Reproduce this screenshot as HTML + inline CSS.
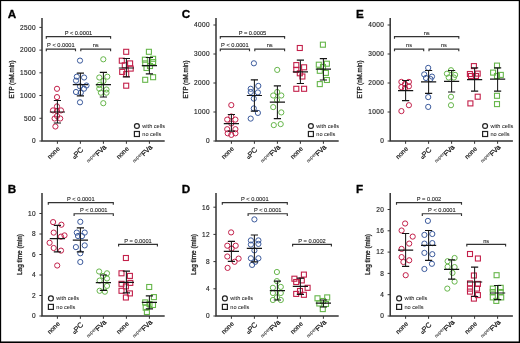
<!DOCTYPE html><html><head><meta charset="utf-8"><style>html,body{margin:0;padding:0;background:#fff;width:520px;height:343px;overflow:hidden}svg{display:block;will-change:transform}</style></head><body>
<svg width="520" height="343" viewBox="0 0 520 343" font-family='"Liberation Sans", sans-serif'>
<style>text{stroke:#1e1e1e;stroke-width:0.22px}</style>
<rect x="0" y="0" width="520" height="343" fill="#fff"/>
<circle cx="57" cy="88.8" r="2.6" fill="none" stroke="#c3204a" stroke-width="1.0"/>
<circle cx="57" cy="97.1" r="2.6" fill="none" stroke="#c3204a" stroke-width="1.0"/>
<circle cx="57" cy="106.4" r="2.6" fill="none" stroke="#c3204a" stroke-width="1.0"/>
<circle cx="53" cy="110.4" r="2.6" fill="none" stroke="#c3204a" stroke-width="1.0"/>
<circle cx="61" cy="110.4" r="2.6" fill="none" stroke="#c3204a" stroke-width="1.0"/>
<circle cx="54.6" cy="118.5" r="2.6" fill="none" stroke="#c3204a" stroke-width="1.0"/>
<circle cx="60.2" cy="118.5" r="2.6" fill="none" stroke="#c3204a" stroke-width="1.0"/>
<circle cx="57" cy="116" r="2.6" fill="none" stroke="#c3204a" stroke-width="1.0"/>
<circle cx="55.4" cy="126.5" r="2.6" fill="none" stroke="#c3204a" stroke-width="1.0"/>
<circle cx="57" cy="111" r="2.6" fill="none" stroke="#c3204a" stroke-width="1.0"/>
<circle cx="80" cy="60.6" r="2.6" fill="none" stroke="#3b5a9c" stroke-width="1.0"/>
<circle cx="76.8" cy="76.7" r="2.6" fill="none" stroke="#3b5a9c" stroke-width="1.0"/>
<circle cx="84.1" cy="77.5" r="2.6" fill="none" stroke="#3b5a9c" stroke-width="1.0"/>
<circle cx="76" cy="80.7" r="2.6" fill="none" stroke="#3b5a9c" stroke-width="1.0"/>
<circle cx="86.5" cy="85.5" r="2.6" fill="none" stroke="#3b5a9c" stroke-width="1.0"/>
<circle cx="80" cy="86.3" r="2.6" fill="none" stroke="#3b5a9c" stroke-width="1.0"/>
<circle cx="84" cy="88.7" r="2.6" fill="none" stroke="#3b5a9c" stroke-width="1.0"/>
<circle cx="76" cy="92" r="2.6" fill="none" stroke="#3b5a9c" stroke-width="1.0"/>
<circle cx="80.8" cy="92.7" r="2.6" fill="none" stroke="#3b5a9c" stroke-width="1.0"/>
<circle cx="80" cy="102.3" r="2.6" fill="none" stroke="#3b5a9c" stroke-width="1.0"/>
<circle cx="103.3" cy="59.3" r="2.6" fill="none" stroke="#66b64a" stroke-width="1.0"/>
<circle cx="99.3" cy="77.5" r="2.6" fill="none" stroke="#66b64a" stroke-width="1.0"/>
<circle cx="107.3" cy="76.7" r="2.6" fill="none" stroke="#66b64a" stroke-width="1.0"/>
<circle cx="103.5" cy="81" r="2.6" fill="none" stroke="#66b64a" stroke-width="1.0"/>
<circle cx="99.3" cy="85" r="2.6" fill="none" stroke="#66b64a" stroke-width="1.0"/>
<circle cx="99.3" cy="88.7" r="2.6" fill="none" stroke="#66b64a" stroke-width="1.0"/>
<circle cx="106.5" cy="89.5" r="2.6" fill="none" stroke="#66b64a" stroke-width="1.0"/>
<circle cx="100.9" cy="92.7" r="2.6" fill="none" stroke="#66b64a" stroke-width="1.0"/>
<circle cx="106.5" cy="92.7" r="2.6" fill="none" stroke="#66b64a" stroke-width="1.0"/>
<circle cx="103.3" cy="103.2" r="2.6" fill="none" stroke="#66b64a" stroke-width="1.0"/>
<rect x="123.7" y="49.3" width="5.0" height="5.0" fill="none" stroke="#c3204a" stroke-width="1.1"/>
<rect x="119.3" y="58.2" width="5.0" height="5.0" fill="none" stroke="#c3204a" stroke-width="1.1"/>
<rect x="127.6" y="60.9" width="5.0" height="5.0" fill="none" stroke="#c3204a" stroke-width="1.1"/>
<rect x="122.3" y="62.8" width="5.0" height="5.0" fill="none" stroke="#c3204a" stroke-width="1.1"/>
<rect x="128.2" y="66.1" width="5.0" height="5.0" fill="none" stroke="#c3204a" stroke-width="1.1"/>
<rect x="119.7" y="69.4" width="5.0" height="5.0" fill="none" stroke="#c3204a" stroke-width="1.1"/>
<rect x="123.7" y="71.6" width="5.0" height="5.0" fill="none" stroke="#c3204a" stroke-width="1.1"/>
<rect x="123.7" y="83.2" width="5.0" height="5.0" fill="none" stroke="#c3204a" stroke-width="1.1"/>
<rect x="146.4" y="49.3" width="5.0" height="5.0" fill="none" stroke="#66b64a" stroke-width="1.1"/>
<rect x="142.4" y="57.2" width="5.0" height="5.0" fill="none" stroke="#66b64a" stroke-width="1.1"/>
<rect x="150.6" y="56.3" width="5.0" height="5.0" fill="none" stroke="#66b64a" stroke-width="1.1"/>
<rect x="142.7" y="60.9" width="5.0" height="5.0" fill="none" stroke="#66b64a" stroke-width="1.1"/>
<rect x="150.6" y="59.6" width="5.0" height="5.0" fill="none" stroke="#66b64a" stroke-width="1.1"/>
<rect x="144" y="65.5" width="5.0" height="5.0" fill="none" stroke="#66b64a" stroke-width="1.1"/>
<rect x="147.5" y="63.5" width="5.0" height="5.0" fill="none" stroke="#66b64a" stroke-width="1.1"/>
<rect x="142.7" y="77.3" width="5.0" height="5.0" fill="none" stroke="#66b64a" stroke-width="1.1"/>
<rect x="150.6" y="74.7" width="5.0" height="5.0" fill="none" stroke="#66b64a" stroke-width="1.1"/>
<path d="M57.4 100.5V123" stroke="#1a1a1a" stroke-width="1.05" fill="none"/>
<path d="M53.8 100.5H61M53.8 123H61M49.8 112H65" stroke="#151515" stroke-width="1.2" fill="none"/>
<path d="M80.4 73.1V95.9" stroke="#1a1a1a" stroke-width="1.05" fill="none"/>
<path d="M76.8 73.1H84M76.8 95.9H84M72.8 84.7H88" stroke="#151515" stroke-width="1.2" fill="none"/>
<path d="M103.4 72.3V97" stroke="#1a1a1a" stroke-width="1.05" fill="none"/>
<path d="M99.8 72.3H107M99.8 97H107M95.8 84.7H111" stroke="#151515" stroke-width="1.2" fill="none"/>
<path d="M126.4 58.5V76.8" stroke="#1a1a1a" stroke-width="1.05" fill="none"/>
<path d="M122.8 58.5H130M122.8 76.8H130M118.8 68H134" stroke="#151515" stroke-width="1.2" fill="none"/>
<path d="M149.4 57.5V73.9" stroke="#1a1a1a" stroke-width="1.05" fill="none"/>
<path d="M145.8 57.5H153M145.8 73.9H153M141.8 65.6H157" stroke="#151515" stroke-width="1.2" fill="none"/>
<path d="M42 18V141H164.7" stroke="#333333" stroke-width="1.5" fill="none"/>
<path d="M39.4 141H42" stroke="#333333" stroke-width="1" fill="none"/>
<text x="35.7" y="143.35" font-size="6.5" text-anchor="end" fill="#1e1e1e" textLength="3.67" lengthAdjust="spacing" style="stroke-width:0.15px">0</text>
<path d="M39.4 118.28H42" stroke="#333333" stroke-width="1" fill="none"/>
<text x="35.7" y="120.63" font-size="6.5" text-anchor="end" fill="#1e1e1e" textLength="11.61" lengthAdjust="spacing" style="stroke-width:0.15px">500</text>
<path d="M39.4 95.56H42" stroke="#333333" stroke-width="1" fill="none"/>
<text x="35.7" y="97.91" font-size="6.5" text-anchor="end" fill="#1e1e1e" textLength="15.58" lengthAdjust="spacing" style="stroke-width:0.15px">1000</text>
<path d="M39.4 72.84H42" stroke="#333333" stroke-width="1" fill="none"/>
<text x="35.7" y="75.19" font-size="6.5" text-anchor="end" fill="#1e1e1e" textLength="15.58" lengthAdjust="spacing" style="stroke-width:0.15px">1500</text>
<path d="M39.4 50.12H42" stroke="#333333" stroke-width="1" fill="none"/>
<text x="35.7" y="52.47" font-size="6.5" text-anchor="end" fill="#1e1e1e" textLength="15.58" lengthAdjust="spacing" style="stroke-width:0.15px">2000</text>
<path d="M39.4 27.4H42" stroke="#333333" stroke-width="1" fill="none"/>
<text x="35.7" y="29.75" font-size="6.5" text-anchor="end" fill="#1e1e1e" textLength="15.58" lengthAdjust="spacing" style="stroke-width:0.15px">2500</text>
<path d="M57.4 141V143.8" stroke="#333333" stroke-width="1" fill="none"/>
<text transform="translate(60.3 149.2) rotate(-45)" font-size="6.6" text-anchor="end" fill="#1e1e1e">none</text>
<path d="M80.4 141V143.8" stroke="#333333" stroke-width="1" fill="none"/>
<text transform="translate(83.9 150.2) rotate(-45)" font-size="6.6" text-anchor="end" fill="#1e1e1e"><tspan font-size="4.9">α</tspan><tspan font-size="7.4">PC</tspan></text>
<path d="M103.4 141V143.8" stroke="#333333" stroke-width="1" fill="none"/>
<text transform="translate(106.7 147.9) rotate(-45)" font-size="6.6" text-anchor="end" fill="#1e1e1e"><tspan font-size="4.6" dy="-2.6" style="stroke-width:0.05px">super</tspan><tspan font-size="6.9" dy="2.6" style="stroke-width:0.32px">FVa</tspan></text>
<path d="M126.4 141V143.8" stroke="#333333" stroke-width="1" fill="none"/>
<text transform="translate(129.3 149.2) rotate(-45)" font-size="6.6" text-anchor="end" fill="#1e1e1e">none</text>
<path d="M149.4 141V143.8" stroke="#333333" stroke-width="1" fill="none"/>
<text transform="translate(152.7 147.9) rotate(-45)" font-size="6.6" text-anchor="end" fill="#1e1e1e"><tspan font-size="4.6" dy="-2.6" style="stroke-width:0.05px">super</tspan><tspan font-size="6.9" dy="2.6" style="stroke-width:0.32px">FVa</tspan></text>
<text transform="translate(13.9 79.5) rotate(-90)" font-size="7.1" text-anchor="middle" fill="#222" textLength="38" lengthAdjust="spacingAndGlyphs" style="stroke-width:0.3px">ETP (nM.min)</text>
<path d="M46.3 38.8V36.6H110.6V38.8" stroke="#333" stroke-width="1.15" fill="none"/>
<text x="78.45" y="34.7" font-size="5.7" text-anchor="middle" fill="#1e1e1e" style="stroke-width:0.1px">P &lt; 0.0001</text>
<path d="M46.3 51.3V49.1H75.5V51.3" stroke="#333" stroke-width="1.15" fill="none"/>
<text x="60.9" y="47.2" font-size="5.7" text-anchor="middle" fill="#1e1e1e" style="stroke-width:0.1px">P &lt; 0.0001</text>
<path d="M80.8 51.3V49.1H110.6V51.3" stroke="#333" stroke-width="1.15" fill="none"/>
<text x="95.7" y="47.2" font-size="5.7" text-anchor="middle" fill="#1e1e1e" style="stroke-width:0.1px">ns</text>
<circle cx="136.9" cy="126" r="2.45" fill="none" stroke="#222" stroke-width="1.2"/>
<rect x="134.4" y="131.5" width="5" height="5" fill="none" stroke="#222" stroke-width="1.2"/>
<text x="142.3" y="127.9" font-size="5.6" fill="#1e1e1e" style="stroke-width:0.04px">with cells</text>
<text x="142.3" y="135.9" font-size="5.6" fill="#1e1e1e" style="stroke-width:0.04px">no cells</text>
<text x="7.7" y="17.7" font-size="11.7" font-weight="bold" fill="#000" style="stroke:#000;stroke-width:0.3px">A</text>
<circle cx="231.3" cy="105.1" r="2.6" fill="none" stroke="#c3204a" stroke-width="1.0"/>
<circle cx="227.2" cy="119.6" r="2.6" fill="none" stroke="#c3204a" stroke-width="1.0"/>
<circle cx="235.4" cy="119.6" r="2.6" fill="none" stroke="#c3204a" stroke-width="1.0"/>
<circle cx="231.3" cy="116.5" r="2.6" fill="none" stroke="#c3204a" stroke-width="1.0"/>
<circle cx="231.3" cy="123.5" r="2.6" fill="none" stroke="#c3204a" stroke-width="1.0"/>
<circle cx="227.2" cy="129.2" r="2.6" fill="none" stroke="#c3204a" stroke-width="1.0"/>
<circle cx="235.4" cy="129.2" r="2.6" fill="none" stroke="#c3204a" stroke-width="1.0"/>
<circle cx="227.7" cy="133.3" r="2.6" fill="none" stroke="#c3204a" stroke-width="1.0"/>
<circle cx="235.4" cy="133.3" r="2.6" fill="none" stroke="#c3204a" stroke-width="1.0"/>
<circle cx="231.3" cy="134.9" r="2.6" fill="none" stroke="#c3204a" stroke-width="1.0"/>
<circle cx="253.9" cy="63.3" r="2.6" fill="none" stroke="#3b5a9c" stroke-width="1.0"/>
<circle cx="250.7" cy="88.8" r="2.6" fill="none" stroke="#3b5a9c" stroke-width="1.0"/>
<circle cx="258.3" cy="85.9" r="2.6" fill="none" stroke="#3b5a9c" stroke-width="1.0"/>
<circle cx="257.9" cy="92.4" r="2.6" fill="none" stroke="#3b5a9c" stroke-width="1.0"/>
<circle cx="250.7" cy="92" r="2.6" fill="none" stroke="#3b5a9c" stroke-width="1.0"/>
<circle cx="253.8" cy="98.6" r="2.6" fill="none" stroke="#3b5a9c" stroke-width="1.0"/>
<circle cx="253.8" cy="108.4" r="2.6" fill="none" stroke="#3b5a9c" stroke-width="1.0"/>
<circle cx="257.9" cy="112.9" r="2.6" fill="none" stroke="#3b5a9c" stroke-width="1.0"/>
<circle cx="250.7" cy="118.6" r="2.6" fill="none" stroke="#3b5a9c" stroke-width="1.0"/>
<circle cx="277.2" cy="69.9" r="2.6" fill="none" stroke="#66b64a" stroke-width="1.0"/>
<circle cx="273.2" cy="95.5" r="2.6" fill="none" stroke="#66b64a" stroke-width="1.0"/>
<circle cx="281.3" cy="95.5" r="2.6" fill="none" stroke="#66b64a" stroke-width="1.0"/>
<circle cx="277.2" cy="92" r="2.6" fill="none" stroke="#66b64a" stroke-width="1.0"/>
<circle cx="277" cy="100" r="2.6" fill="none" stroke="#66b64a" stroke-width="1.0"/>
<circle cx="273.2" cy="107.1" r="2.6" fill="none" stroke="#66b64a" stroke-width="1.0"/>
<circle cx="281.3" cy="112.4" r="2.6" fill="none" stroke="#66b64a" stroke-width="1.0"/>
<circle cx="273.8" cy="125.1" r="2.6" fill="none" stroke="#66b64a" stroke-width="1.0"/>
<circle cx="280.7" cy="124.1" r="2.6" fill="none" stroke="#66b64a" stroke-width="1.0"/>
<rect x="297.3" y="45.5" width="5.0" height="5.0" fill="none" stroke="#c3204a" stroke-width="1.1"/>
<rect x="293.8" y="62.6" width="5.0" height="5.0" fill="none" stroke="#c3204a" stroke-width="1.1"/>
<rect x="301.6" y="64.8" width="5.0" height="5.0" fill="none" stroke="#c3204a" stroke-width="1.1"/>
<rect x="293.8" y="67.3" width="5.0" height="5.0" fill="none" stroke="#c3204a" stroke-width="1.1"/>
<rect x="297.3" y="70.8" width="5.0" height="5.0" fill="none" stroke="#c3204a" stroke-width="1.1"/>
<rect x="299.9" y="74" width="5.0" height="5.0" fill="none" stroke="#c3204a" stroke-width="1.1"/>
<rect x="293.8" y="86.3" width="5.0" height="5.0" fill="none" stroke="#c3204a" stroke-width="1.1"/>
<rect x="301.6" y="86.3" width="5.0" height="5.0" fill="none" stroke="#c3204a" stroke-width="1.1"/>
<rect x="320.4" y="42.2" width="5.0" height="5.0" fill="none" stroke="#66b64a" stroke-width="1.1"/>
<rect x="316.3" y="62.2" width="5.0" height="5.0" fill="none" stroke="#66b64a" stroke-width="1.1"/>
<rect x="324.4" y="61.2" width="5.0" height="5.0" fill="none" stroke="#66b64a" stroke-width="1.1"/>
<rect x="317.3" y="68.3" width="5.0" height="5.0" fill="none" stroke="#66b64a" stroke-width="1.1"/>
<rect x="323.4" y="70.4" width="5.0" height="5.0" fill="none" stroke="#66b64a" stroke-width="1.1"/>
<rect x="324.4" y="77.5" width="5.0" height="5.0" fill="none" stroke="#66b64a" stroke-width="1.1"/>
<rect x="317.3" y="81.6" width="5.0" height="5.0" fill="none" stroke="#66b64a" stroke-width="1.1"/>
<rect x="320.5" y="64.5" width="5.0" height="5.0" fill="none" stroke="#66b64a" stroke-width="1.1"/>
<path d="M231.4 114.5V131.2" stroke="#1a1a1a" stroke-width="1.05" fill="none"/>
<path d="M227.8 114.5H235M227.8 131.2H235M223.8 123.7H239" stroke="#151515" stroke-width="1.2" fill="none"/>
<path d="M254.4 79.8V111.2" stroke="#1a1a1a" stroke-width="1.05" fill="none"/>
<path d="M250.8 79.8H258M250.8 111.2H258M246.8 95.5H262" stroke="#151515" stroke-width="1.2" fill="none"/>
<path d="M277.4 85.9V118.6" stroke="#1a1a1a" stroke-width="1.05" fill="none"/>
<path d="M273.8 85.9H281M273.8 118.6H281M269.8 102.2H285" stroke="#151515" stroke-width="1.2" fill="none"/>
<path d="M300.4 60.2V83.5" stroke="#1a1a1a" stroke-width="1.05" fill="none"/>
<path d="M296.8 60.2H304M296.8 83.5H304M292.8 71.8H308" stroke="#151515" stroke-width="1.2" fill="none"/>
<path d="M323.4 58.6V80" stroke="#1a1a1a" stroke-width="1.05" fill="none"/>
<path d="M319.8 58.6H327M319.8 80H327M315.8 69.2H331" stroke="#151515" stroke-width="1.2" fill="none"/>
<path d="M216 18V141H338.7" stroke="#333333" stroke-width="1.5" fill="none"/>
<path d="M213.4 141H216" stroke="#333333" stroke-width="1" fill="none"/>
<text x="209.7" y="143.35" font-size="6.5" text-anchor="end" fill="#1e1e1e" textLength="3.67" lengthAdjust="spacing" style="stroke-width:0.15px">0</text>
<path d="M213.4 112H216" stroke="#333333" stroke-width="1" fill="none"/>
<text x="209.7" y="114.35" font-size="6.5" text-anchor="end" fill="#1e1e1e" textLength="15.58" lengthAdjust="spacing" style="stroke-width:0.15px">1000</text>
<path d="M213.4 83H216" stroke="#333333" stroke-width="1" fill="none"/>
<text x="209.7" y="85.35" font-size="6.5" text-anchor="end" fill="#1e1e1e" textLength="15.58" lengthAdjust="spacing" style="stroke-width:0.15px">2000</text>
<path d="M213.4 54H216" stroke="#333333" stroke-width="1" fill="none"/>
<text x="209.7" y="56.35" font-size="6.5" text-anchor="end" fill="#1e1e1e" textLength="15.58" lengthAdjust="spacing" style="stroke-width:0.15px">3000</text>
<path d="M213.4 25H216" stroke="#333333" stroke-width="1" fill="none"/>
<text x="209.7" y="27.35" font-size="6.5" text-anchor="end" fill="#1e1e1e" textLength="15.58" lengthAdjust="spacing" style="stroke-width:0.15px">4000</text>
<path d="M231.4 141V143.8" stroke="#333333" stroke-width="1" fill="none"/>
<text transform="translate(234.3 149.2) rotate(-45)" font-size="6.6" text-anchor="end" fill="#1e1e1e">none</text>
<path d="M254.4 141V143.8" stroke="#333333" stroke-width="1" fill="none"/>
<text transform="translate(257.9 150.2) rotate(-45)" font-size="6.6" text-anchor="end" fill="#1e1e1e"><tspan font-size="4.9">α</tspan><tspan font-size="7.4">PC</tspan></text>
<path d="M277.4 141V143.8" stroke="#333333" stroke-width="1" fill="none"/>
<text transform="translate(280.7 147.9) rotate(-45)" font-size="6.6" text-anchor="end" fill="#1e1e1e"><tspan font-size="4.6" dy="-2.6" style="stroke-width:0.05px">super</tspan><tspan font-size="6.9" dy="2.6" style="stroke-width:0.32px">FVa</tspan></text>
<path d="M300.4 141V143.8" stroke="#333333" stroke-width="1" fill="none"/>
<text transform="translate(303.3 149.2) rotate(-45)" font-size="6.6" text-anchor="end" fill="#1e1e1e">none</text>
<path d="M323.4 141V143.8" stroke="#333333" stroke-width="1" fill="none"/>
<text transform="translate(326.7 147.9) rotate(-45)" font-size="6.6" text-anchor="end" fill="#1e1e1e"><tspan font-size="4.6" dy="-2.6" style="stroke-width:0.05px">super</tspan><tspan font-size="6.9" dy="2.6" style="stroke-width:0.32px">FVa</tspan></text>
<text transform="translate(187.9 79.5) rotate(-90)" font-size="7.1" text-anchor="middle" fill="#222" textLength="38" lengthAdjust="spacingAndGlyphs" style="stroke-width:0.3px">ETP (nM.min)</text>
<path d="M220.3 38.8V36.6H284.6V38.8" stroke="#333" stroke-width="1.15" fill="none"/>
<text x="252.45" y="34.7" font-size="5.7" text-anchor="middle" fill="#1e1e1e" style="stroke-width:0.1px">P = 0.0005</text>
<path d="M220.3 51.3V49.1H249.5V51.3" stroke="#333" stroke-width="1.15" fill="none"/>
<text x="234.9" y="47.2" font-size="5.7" text-anchor="middle" fill="#1e1e1e" style="stroke-width:0.1px">P &lt; 0.0001</text>
<path d="M254.8 51.3V49.1H284.6V51.3" stroke="#333" stroke-width="1.15" fill="none"/>
<text x="269.7" y="47.2" font-size="5.7" text-anchor="middle" fill="#1e1e1e" style="stroke-width:0.1px">ns</text>
<circle cx="310.9" cy="126" r="2.45" fill="none" stroke="#222" stroke-width="1.2"/>
<rect x="308.4" y="131.5" width="5" height="5" fill="none" stroke="#222" stroke-width="1.2"/>
<text x="316.3" y="127.9" font-size="5.6" fill="#1e1e1e" style="stroke-width:0.04px">with cells</text>
<text x="316.3" y="135.9" font-size="5.6" fill="#1e1e1e" style="stroke-width:0.04px">no cells</text>
<text x="181.7" y="17.7" font-size="11.7" font-weight="bold" fill="#000" style="stroke:#000;stroke-width:0.3px">C</text>
<circle cx="401.4" cy="81.9" r="2.6" fill="none" stroke="#c3204a" stroke-width="1.0"/>
<circle cx="408.9" cy="81.9" r="2.6" fill="none" stroke="#c3204a" stroke-width="1.0"/>
<circle cx="401.4" cy="87.1" r="2.6" fill="none" stroke="#c3204a" stroke-width="1.0"/>
<circle cx="408.9" cy="86.3" r="2.6" fill="none" stroke="#c3204a" stroke-width="1.0"/>
<circle cx="405" cy="84" r="2.6" fill="none" stroke="#c3204a" stroke-width="1.0"/>
<circle cx="405" cy="88" r="2.6" fill="none" stroke="#c3204a" stroke-width="1.0"/>
<circle cx="408.9" cy="105.2" r="2.6" fill="none" stroke="#c3204a" stroke-width="1.0"/>
<circle cx="401.4" cy="111.1" r="2.6" fill="none" stroke="#c3204a" stroke-width="1.0"/>
<circle cx="428.2" cy="67.9" r="2.6" fill="none" stroke="#3b5a9c" stroke-width="1.0"/>
<circle cx="424.2" cy="74.4" r="2.6" fill="none" stroke="#3b5a9c" stroke-width="1.0"/>
<circle cx="432" cy="76.6" r="2.6" fill="none" stroke="#3b5a9c" stroke-width="1.0"/>
<circle cx="426" cy="78" r="2.6" fill="none" stroke="#3b5a9c" stroke-width="1.0"/>
<circle cx="430.5" cy="79" r="2.6" fill="none" stroke="#3b5a9c" stroke-width="1.0"/>
<circle cx="428.2" cy="97.1" r="2.6" fill="none" stroke="#3b5a9c" stroke-width="1.0"/>
<circle cx="428.2" cy="106.9" r="2.6" fill="none" stroke="#3b5a9c" stroke-width="1.0"/>
<circle cx="451" cy="70.2" r="2.6" fill="none" stroke="#66b64a" stroke-width="1.0"/>
<circle cx="446.9" cy="73.7" r="2.6" fill="none" stroke="#66b64a" stroke-width="1.0"/>
<circle cx="455.1" cy="74.9" r="2.6" fill="none" stroke="#66b64a" stroke-width="1.0"/>
<circle cx="448.7" cy="77.5" r="2.6" fill="none" stroke="#66b64a" stroke-width="1.0"/>
<circle cx="453.9" cy="77.5" r="2.6" fill="none" stroke="#66b64a" stroke-width="1.0"/>
<circle cx="451" cy="96.8" r="2.6" fill="none" stroke="#66b64a" stroke-width="1.0"/>
<circle cx="451" cy="105.2" r="2.6" fill="none" stroke="#66b64a" stroke-width="1.0"/>
<rect x="471.4" y="63.6" width="5.0" height="5.0" fill="none" stroke="#c3204a" stroke-width="1.1"/>
<rect x="467.4" y="71.5" width="5.0" height="5.0" fill="none" stroke="#c3204a" stroke-width="1.1"/>
<rect x="475.2" y="71.1" width="5.0" height="5.0" fill="none" stroke="#c3204a" stroke-width="1.1"/>
<rect x="468.5" y="73.5" width="5.0" height="5.0" fill="none" stroke="#c3204a" stroke-width="1.1"/>
<rect x="473.5" y="73.5" width="5.0" height="5.0" fill="none" stroke="#c3204a" stroke-width="1.1"/>
<rect x="475.2" y="94.2" width="5.0" height="5.0" fill="none" stroke="#c3204a" stroke-width="1.1"/>
<rect x="467.9" y="100.9" width="5.0" height="5.0" fill="none" stroke="#c3204a" stroke-width="1.1"/>
<rect x="494.5" y="63.1" width="5.0" height="5.0" fill="none" stroke="#66b64a" stroke-width="1.1"/>
<rect x="490.6" y="70.1" width="5.0" height="5.0" fill="none" stroke="#66b64a" stroke-width="1.1"/>
<rect x="498.3" y="72.4" width="5.0" height="5.0" fill="none" stroke="#66b64a" stroke-width="1.1"/>
<rect x="494.5" y="73.5" width="5.0" height="5.0" fill="none" stroke="#66b64a" stroke-width="1.1"/>
<rect x="494.5" y="93.3" width="5.0" height="5.0" fill="none" stroke="#66b64a" stroke-width="1.1"/>
<rect x="494.5" y="101.6" width="5.0" height="5.0" fill="none" stroke="#66b64a" stroke-width="1.1"/>
<path d="M405.6 80.5V100.6" stroke="#1a1a1a" stroke-width="1.05" fill="none"/>
<path d="M402 80.5H409.2M402 100.6H409.2M398 90.6H413.2" stroke="#151515" stroke-width="1.2" fill="none"/>
<path d="M428.6 70.5V93.3" stroke="#1a1a1a" stroke-width="1.05" fill="none"/>
<path d="M425 70.5H432.2M425 93.3H432.2M421 81.9H436.2" stroke="#151515" stroke-width="1.2" fill="none"/>
<path d="M451.6 70.5V92" stroke="#1a1a1a" stroke-width="1.05" fill="none"/>
<path d="M448 70.5H455.2M448 92H455.2M444 81.4H459.2" stroke="#151515" stroke-width="1.2" fill="none"/>
<path d="M474.6 67.9V91.1" stroke="#1a1a1a" stroke-width="1.05" fill="none"/>
<path d="M471 67.9H478.2M471 91.1H478.2M467 79.6H482.2" stroke="#151515" stroke-width="1.2" fill="none"/>
<path d="M497.6 67.9V91.1" stroke="#1a1a1a" stroke-width="1.05" fill="none"/>
<path d="M494 67.9H501.2M494 91.1H501.2M490 79.2H505.2" stroke="#151515" stroke-width="1.2" fill="none"/>
<path d="M390.2 18V141H512.9" stroke="#333333" stroke-width="1.5" fill="none"/>
<path d="M387.6 141H390.2" stroke="#333333" stroke-width="1" fill="none"/>
<text x="383.9" y="143.35" font-size="6.5" text-anchor="end" fill="#1e1e1e" textLength="3.67" lengthAdjust="spacing" style="stroke-width:0.15px">0</text>
<path d="M387.6 112H390.2" stroke="#333333" stroke-width="1" fill="none"/>
<text x="383.9" y="114.35" font-size="6.5" text-anchor="end" fill="#1e1e1e" textLength="15.58" lengthAdjust="spacing" style="stroke-width:0.15px">1000</text>
<path d="M387.6 83H390.2" stroke="#333333" stroke-width="1" fill="none"/>
<text x="383.9" y="85.35" font-size="6.5" text-anchor="end" fill="#1e1e1e" textLength="15.58" lengthAdjust="spacing" style="stroke-width:0.15px">2000</text>
<path d="M387.6 54H390.2" stroke="#333333" stroke-width="1" fill="none"/>
<text x="383.9" y="56.35" font-size="6.5" text-anchor="end" fill="#1e1e1e" textLength="15.58" lengthAdjust="spacing" style="stroke-width:0.15px">3000</text>
<path d="M387.6 25H390.2" stroke="#333333" stroke-width="1" fill="none"/>
<text x="383.9" y="27.35" font-size="6.5" text-anchor="end" fill="#1e1e1e" textLength="15.58" lengthAdjust="spacing" style="stroke-width:0.15px">4000</text>
<path d="M405.6 141V143.8" stroke="#333333" stroke-width="1" fill="none"/>
<text transform="translate(408.5 149.2) rotate(-45)" font-size="6.6" text-anchor="end" fill="#1e1e1e">none</text>
<path d="M428.6 141V143.8" stroke="#333333" stroke-width="1" fill="none"/>
<text transform="translate(432.1 150.2) rotate(-45)" font-size="6.6" text-anchor="end" fill="#1e1e1e"><tspan font-size="4.9">α</tspan><tspan font-size="7.4">PC</tspan></text>
<path d="M451.6 141V143.8" stroke="#333333" stroke-width="1" fill="none"/>
<text transform="translate(454.9 147.9) rotate(-45)" font-size="6.6" text-anchor="end" fill="#1e1e1e"><tspan font-size="4.6" dy="-2.6" style="stroke-width:0.05px">super</tspan><tspan font-size="6.9" dy="2.6" style="stroke-width:0.32px">FVa</tspan></text>
<path d="M474.6 141V143.8" stroke="#333333" stroke-width="1" fill="none"/>
<text transform="translate(477.5 149.2) rotate(-45)" font-size="6.6" text-anchor="end" fill="#1e1e1e">none</text>
<path d="M497.6 141V143.8" stroke="#333333" stroke-width="1" fill="none"/>
<text transform="translate(500.9 147.9) rotate(-45)" font-size="6.6" text-anchor="end" fill="#1e1e1e"><tspan font-size="4.6" dy="-2.6" style="stroke-width:0.05px">super</tspan><tspan font-size="6.9" dy="2.6" style="stroke-width:0.32px">FVa</tspan></text>
<text transform="translate(362.1 79.5) rotate(-90)" font-size="7.1" text-anchor="middle" fill="#222" textLength="38" lengthAdjust="spacingAndGlyphs" style="stroke-width:0.3px">ETP (nM.min)</text>
<path d="M394.5 38.8V36.6H458.8V38.8" stroke="#333" stroke-width="1.15" fill="none"/>
<text x="426.65" y="34.7" font-size="5.7" text-anchor="middle" fill="#1e1e1e" style="stroke-width:0.1px">ns</text>
<path d="M394.5 51.3V49.1H423.7V51.3" stroke="#333" stroke-width="1.15" fill="none"/>
<text x="409.1" y="47.2" font-size="5.7" text-anchor="middle" fill="#1e1e1e" style="stroke-width:0.1px">ns</text>
<path d="M429 51.3V49.1H458.8V51.3" stroke="#333" stroke-width="1.15" fill="none"/>
<text x="443.9" y="47.2" font-size="5.7" text-anchor="middle" fill="#1e1e1e" style="stroke-width:0.1px">ns</text>
<circle cx="485.1" cy="126" r="2.45" fill="none" stroke="#222" stroke-width="1.2"/>
<rect x="482.6" y="131.5" width="5" height="5" fill="none" stroke="#222" stroke-width="1.2"/>
<text x="490.5" y="127.9" font-size="5.6" fill="#1e1e1e" style="stroke-width:0.04px">with cells</text>
<text x="490.5" y="135.9" font-size="5.6" fill="#1e1e1e" style="stroke-width:0.04px">no cells</text>
<text x="355.9" y="17.7" font-size="11.7" font-weight="bold" fill="#000" style="stroke:#000;stroke-width:0.3px">E</text>
<circle cx="53.1" cy="222.1" r="2.6" fill="none" stroke="#c3204a" stroke-width="1.0"/>
<circle cx="61.4" cy="224.7" r="2.6" fill="none" stroke="#c3204a" stroke-width="1.0"/>
<circle cx="53.7" cy="232.6" r="2.6" fill="none" stroke="#c3204a" stroke-width="1.0"/>
<circle cx="64.5" cy="235.4" r="2.6" fill="none" stroke="#c3204a" stroke-width="1.0"/>
<circle cx="61" cy="236.6" r="2.6" fill="none" stroke="#c3204a" stroke-width="1.0"/>
<circle cx="49.6" cy="242.8" r="2.6" fill="none" stroke="#c3204a" stroke-width="1.0"/>
<circle cx="53.7" cy="248" r="2.6" fill="none" stroke="#c3204a" stroke-width="1.0"/>
<circle cx="61" cy="250.6" r="2.6" fill="none" stroke="#c3204a" stroke-width="1.0"/>
<circle cx="57.2" cy="265.5" r="2.6" fill="none" stroke="#c3204a" stroke-width="1.0"/>
<circle cx="80.3" cy="221.8" r="2.6" fill="none" stroke="#3b5a9c" stroke-width="1.0"/>
<circle cx="76.8" cy="232.6" r="2.6" fill="none" stroke="#3b5a9c" stroke-width="1.0"/>
<circle cx="84.7" cy="232.6" r="2.6" fill="none" stroke="#3b5a9c" stroke-width="1.0"/>
<circle cx="82" cy="236.1" r="2.6" fill="none" stroke="#3b5a9c" stroke-width="1.0"/>
<circle cx="78" cy="236" r="2.6" fill="none" stroke="#3b5a9c" stroke-width="1.0"/>
<circle cx="75.9" cy="247.1" r="2.6" fill="none" stroke="#3b5a9c" stroke-width="1.0"/>
<circle cx="84.7" cy="245.4" r="2.6" fill="none" stroke="#3b5a9c" stroke-width="1.0"/>
<circle cx="80.3" cy="253.3" r="2.6" fill="none" stroke="#3b5a9c" stroke-width="1.0"/>
<circle cx="80.3" cy="262" r="2.6" fill="none" stroke="#3b5a9c" stroke-width="1.0"/>
<circle cx="99.1" cy="271.5" r="2.6" fill="none" stroke="#66b64a" stroke-width="1.0"/>
<circle cx="107" cy="273.3" r="2.6" fill="none" stroke="#66b64a" stroke-width="1.0"/>
<circle cx="107" cy="278.5" r="2.6" fill="none" stroke="#66b64a" stroke-width="1.0"/>
<circle cx="99.6" cy="280.6" r="2.6" fill="none" stroke="#66b64a" stroke-width="1.0"/>
<circle cx="107" cy="285.9" r="2.6" fill="none" stroke="#66b64a" stroke-width="1.0"/>
<circle cx="99.6" cy="290.8" r="2.6" fill="none" stroke="#66b64a" stroke-width="1.0"/>
<circle cx="104.9" cy="291.7" r="2.6" fill="none" stroke="#66b64a" stroke-width="1.0"/>
<circle cx="103" cy="276" r="2.6" fill="none" stroke="#66b64a" stroke-width="1.0"/>
<rect x="123.4" y="255.5" width="5.0" height="5.0" fill="none" stroke="#c3204a" stroke-width="1.1"/>
<rect x="119" y="270.8" width="5.0" height="5.0" fill="none" stroke="#c3204a" stroke-width="1.1"/>
<rect x="127.4" y="273.4" width="5.0" height="5.0" fill="none" stroke="#c3204a" stroke-width="1.1"/>
<rect x="119" y="281.3" width="5.0" height="5.0" fill="none" stroke="#c3204a" stroke-width="1.1"/>
<rect x="127.8" y="280.4" width="5.0" height="5.0" fill="none" stroke="#c3204a" stroke-width="1.1"/>
<rect x="123.4" y="283.9" width="5.0" height="5.0" fill="none" stroke="#c3204a" stroke-width="1.1"/>
<rect x="119" y="288.3" width="5.0" height="5.0" fill="none" stroke="#c3204a" stroke-width="1.1"/>
<rect x="127.4" y="290.9" width="5.0" height="5.0" fill="none" stroke="#c3204a" stroke-width="1.1"/>
<rect x="123.4" y="295" width="5.0" height="5.0" fill="none" stroke="#c3204a" stroke-width="1.1"/>
<rect x="146.7" y="284.5" width="5.0" height="5.0" fill="none" stroke="#66b64a" stroke-width="1.1"/>
<rect x="151.4" y="294.6" width="5.0" height="5.0" fill="none" stroke="#66b64a" stroke-width="1.1"/>
<rect x="142.7" y="299.9" width="5.0" height="5.0" fill="none" stroke="#66b64a" stroke-width="1.1"/>
<rect x="150.5" y="302.5" width="5.0" height="5.0" fill="none" stroke="#66b64a" stroke-width="1.1"/>
<rect x="143.2" y="305.2" width="5.0" height="5.0" fill="none" stroke="#66b64a" stroke-width="1.1"/>
<rect x="147" y="301.5" width="5.0" height="5.0" fill="none" stroke="#66b64a" stroke-width="1.1"/>
<rect x="144.4" y="309.5" width="5.0" height="5.0" fill="none" stroke="#66b64a" stroke-width="1.1"/>
<path d="M57.4 225.3V251.9" stroke="#1a1a1a" stroke-width="1.05" fill="none"/>
<path d="M53.8 225.3H61M53.8 251.9H61M49.8 238.6H65" stroke="#151515" stroke-width="1.2" fill="none"/>
<path d="M80.4 227.9V251.9" stroke="#1a1a1a" stroke-width="1.05" fill="none"/>
<path d="M76.8 227.9H84M76.8 251.9H84M72.8 240.1H88" stroke="#151515" stroke-width="1.2" fill="none"/>
<path d="M103.4 275V290.4" stroke="#1a1a1a" stroke-width="1.05" fill="none"/>
<path d="M99.8 275H107M99.8 290.4H107M95.8 282.6H111" stroke="#151515" stroke-width="1.2" fill="none"/>
<path d="M126.4 271.2V292.8" stroke="#1a1a1a" stroke-width="1.05" fill="none"/>
<path d="M122.8 271.2H130M122.8 292.8H130M118.8 282.4H134" stroke="#151515" stroke-width="1.2" fill="none"/>
<path d="M149.4 295.9V308.9" stroke="#1a1a1a" stroke-width="1.05" fill="none"/>
<path d="M145.8 295.9H153M145.8 308.9H153M141.8 302.4H157" stroke="#151515" stroke-width="1.2" fill="none"/>
<path d="M42 193V316H164.7" stroke="#333333" stroke-width="1.5" fill="none"/>
<path d="M39.4 316H42" stroke="#333333" stroke-width="1" fill="none"/>
<text x="35.7" y="318.35" font-size="6.5" text-anchor="end" fill="#1e1e1e" textLength="3.67" lengthAdjust="spacing" style="stroke-width:0.15px">0</text>
<path d="M39.4 295.5H42" stroke="#333333" stroke-width="1" fill="none"/>
<text x="35.7" y="297.85" font-size="6.5" text-anchor="end" fill="#1e1e1e" textLength="3.67" lengthAdjust="spacing" style="stroke-width:0.15px">2</text>
<path d="M39.4 275H42" stroke="#333333" stroke-width="1" fill="none"/>
<text x="35.7" y="277.35" font-size="6.5" text-anchor="end" fill="#1e1e1e" textLength="3.67" lengthAdjust="spacing" style="stroke-width:0.15px">4</text>
<path d="M39.4 254.5H42" stroke="#333333" stroke-width="1" fill="none"/>
<text x="35.7" y="256.85" font-size="6.5" text-anchor="end" fill="#1e1e1e" textLength="3.67" lengthAdjust="spacing" style="stroke-width:0.15px">6</text>
<path d="M39.4 234H42" stroke="#333333" stroke-width="1" fill="none"/>
<text x="35.7" y="236.35" font-size="6.5" text-anchor="end" fill="#1e1e1e" textLength="3.67" lengthAdjust="spacing" style="stroke-width:0.15px">8</text>
<path d="M39.4 213.5H42" stroke="#333333" stroke-width="1" fill="none"/>
<text x="35.7" y="215.85" font-size="6.5" text-anchor="end" fill="#1e1e1e" textLength="7.64" lengthAdjust="spacing" style="stroke-width:0.15px">10</text>
<path d="M57.4 316V318.8" stroke="#333333" stroke-width="1" fill="none"/>
<text transform="translate(60.3 324.2) rotate(-45)" font-size="6.6" text-anchor="end" fill="#1e1e1e">none</text>
<path d="M80.4 316V318.8" stroke="#333333" stroke-width="1" fill="none"/>
<text transform="translate(83.9 325.2) rotate(-45)" font-size="6.6" text-anchor="end" fill="#1e1e1e"><tspan font-size="4.9">α</tspan><tspan font-size="7.4">PC</tspan></text>
<path d="M103.4 316V318.8" stroke="#333333" stroke-width="1" fill="none"/>
<text transform="translate(106.7 322.9) rotate(-45)" font-size="6.6" text-anchor="end" fill="#1e1e1e"><tspan font-size="4.6" dy="-2.6" style="stroke-width:0.05px">super</tspan><tspan font-size="6.9" dy="2.6" style="stroke-width:0.32px">FVa</tspan></text>
<path d="M126.4 316V318.8" stroke="#333333" stroke-width="1" fill="none"/>
<text transform="translate(129.3 324.2) rotate(-45)" font-size="6.6" text-anchor="end" fill="#1e1e1e">none</text>
<path d="M149.4 316V318.8" stroke="#333333" stroke-width="1" fill="none"/>
<text transform="translate(152.7 322.9) rotate(-45)" font-size="6.6" text-anchor="end" fill="#1e1e1e"><tspan font-size="4.6" dy="-2.6" style="stroke-width:0.05px">super</tspan><tspan font-size="6.9" dy="2.6" style="stroke-width:0.32px">FVa</tspan></text>
<text transform="translate(22.2 254.5) rotate(-90)" font-size="7.1" text-anchor="middle" fill="#222" textLength="41" lengthAdjust="spacingAndGlyphs" style="stroke-width:0.3px">Lag time (min)</text>
<path d="M48.3 204.8V202.6H113.3V204.8" stroke="#333" stroke-width="1.15" fill="none"/>
<text x="80.8" y="200.7" font-size="5.7" text-anchor="middle" fill="#1e1e1e" style="stroke-width:0.1px">P &lt; 0.0001</text>
<path d="M74.1 215.9V213.7H113.3V215.9" stroke="#333" stroke-width="1.15" fill="none"/>
<text x="93.7" y="211.8" font-size="5.7" text-anchor="middle" fill="#1e1e1e" style="stroke-width:0.1px">P &lt; 0.0001</text>
<path d="M118.6 246.6V244.4H157.4V246.6" stroke="#333" stroke-width="1.15" fill="none"/>
<text x="138" y="242.5" font-size="5.7" text-anchor="middle" fill="#1e1e1e" style="stroke-width:0.1px">P = 0.0001</text>
<circle cx="50.9" cy="298.4" r="2.45" fill="none" stroke="#222" stroke-width="1.2"/>
<rect x="48.4" y="304.4" width="5" height="5" fill="none" stroke="#222" stroke-width="1.2"/>
<text x="56.3" y="300.3" font-size="5.6" fill="#1e1e1e" style="stroke-width:0.04px">with cells</text>
<text x="56.3" y="308.8" font-size="5.6" fill="#1e1e1e" style="stroke-width:0.04px">no cells</text>
<text x="7.7" y="193.2" font-size="11.7" font-weight="bold" fill="#000" style="stroke:#000;stroke-width:0.3px">B</text>
<circle cx="231.1" cy="232.4" r="2.6" fill="none" stroke="#c3204a" stroke-width="1.0"/>
<circle cx="227.3" cy="245.7" r="2.6" fill="none" stroke="#c3204a" stroke-width="1.0"/>
<circle cx="235.7" cy="245.7" r="2.6" fill="none" stroke="#c3204a" stroke-width="1.0"/>
<circle cx="231.6" cy="248.6" r="2.6" fill="none" stroke="#c3204a" stroke-width="1.0"/>
<circle cx="227.3" cy="256.5" r="2.6" fill="none" stroke="#c3204a" stroke-width="1.0"/>
<circle cx="238.6" cy="258.6" r="2.6" fill="none" stroke="#c3204a" stroke-width="1.0"/>
<circle cx="234.6" cy="261.8" r="2.6" fill="none" stroke="#c3204a" stroke-width="1.0"/>
<circle cx="227.6" cy="267.9" r="2.6" fill="none" stroke="#c3204a" stroke-width="1.0"/>
<circle cx="254.4" cy="219.4" r="2.6" fill="none" stroke="#3b5a9c" stroke-width="1.0"/>
<circle cx="250.9" cy="240.4" r="2.6" fill="none" stroke="#3b5a9c" stroke-width="1.0"/>
<circle cx="258.4" cy="240.4" r="2.6" fill="none" stroke="#3b5a9c" stroke-width="1.0"/>
<circle cx="250.9" cy="244.6" r="2.6" fill="none" stroke="#3b5a9c" stroke-width="1.0"/>
<circle cx="258.4" cy="243.9" r="2.6" fill="none" stroke="#3b5a9c" stroke-width="1.0"/>
<circle cx="254.4" cy="250.4" r="2.6" fill="none" stroke="#3b5a9c" stroke-width="1.0"/>
<circle cx="250.9" cy="258.3" r="2.6" fill="none" stroke="#3b5a9c" stroke-width="1.0"/>
<circle cx="258.4" cy="258.3" r="2.6" fill="none" stroke="#3b5a9c" stroke-width="1.0"/>
<circle cx="255.3" cy="261.8" r="2.6" fill="none" stroke="#3b5a9c" stroke-width="1.0"/>
<circle cx="252.1" cy="264.9" r="2.6" fill="none" stroke="#3b5a9c" stroke-width="1.0"/>
<circle cx="276.9" cy="272" r="2.6" fill="none" stroke="#66b64a" stroke-width="1.0"/>
<circle cx="276.9" cy="281.1" r="2.6" fill="none" stroke="#66b64a" stroke-width="1.0"/>
<circle cx="272.9" cy="287.8" r="2.6" fill="none" stroke="#66b64a" stroke-width="1.0"/>
<circle cx="280.8" cy="286.9" r="2.6" fill="none" stroke="#66b64a" stroke-width="1.0"/>
<circle cx="272.9" cy="293" r="2.6" fill="none" stroke="#66b64a" stroke-width="1.0"/>
<circle cx="280.8" cy="293" r="2.6" fill="none" stroke="#66b64a" stroke-width="1.0"/>
<circle cx="272.9" cy="300" r="2.6" fill="none" stroke="#66b64a" stroke-width="1.0"/>
<circle cx="280.8" cy="300" r="2.6" fill="none" stroke="#66b64a" stroke-width="1.0"/>
<circle cx="276.9" cy="297.4" r="2.6" fill="none" stroke="#66b64a" stroke-width="1.0"/>
<rect x="301.4" y="272.1" width="5.0" height="5.0" fill="none" stroke="#c3204a" stroke-width="1.1"/>
<rect x="291.9" y="276.2" width="5.0" height="5.0" fill="none" stroke="#c3204a" stroke-width="1.1"/>
<rect x="293.7" y="279.5" width="5.0" height="5.0" fill="none" stroke="#c3204a" stroke-width="1.1"/>
<rect x="299.3" y="277.9" width="5.0" height="5.0" fill="none" stroke="#c3204a" stroke-width="1.1"/>
<rect x="305.1" y="285.3" width="5.0" height="5.0" fill="none" stroke="#c3204a" stroke-width="1.1"/>
<rect x="293.7" y="291.4" width="5.0" height="5.0" fill="none" stroke="#c3204a" stroke-width="1.1"/>
<rect x="301.4" y="292.3" width="5.0" height="5.0" fill="none" stroke="#c3204a" stroke-width="1.1"/>
<rect x="297.5" y="288.5" width="5.0" height="5.0" fill="none" stroke="#c3204a" stroke-width="1.1"/>
<rect x="315" y="295.8" width="5.0" height="5.0" fill="none" stroke="#66b64a" stroke-width="1.1"/>
<rect x="324.7" y="294.9" width="5.0" height="5.0" fill="none" stroke="#66b64a" stroke-width="1.1"/>
<rect x="316.8" y="301" width="5.0" height="5.0" fill="none" stroke="#66b64a" stroke-width="1.1"/>
<rect x="323.5" y="301.5" width="5.0" height="5.0" fill="none" stroke="#66b64a" stroke-width="1.1"/>
<rect x="320.3" y="306.6" width="5.0" height="5.0" fill="none" stroke="#66b64a" stroke-width="1.1"/>
<rect x="320.5" y="298.5" width="5.0" height="5.0" fill="none" stroke="#66b64a" stroke-width="1.1"/>
<path d="M231.4 241.3V261.4" stroke="#1a1a1a" stroke-width="1.05" fill="none"/>
<path d="M227.8 241.3H235M227.8 261.4H235M223.8 251.3H239" stroke="#151515" stroke-width="1.2" fill="none"/>
<path d="M254.4 235V261.8" stroke="#1a1a1a" stroke-width="1.05" fill="none"/>
<path d="M250.8 235H258M250.8 261.8H258M246.8 248.3H262" stroke="#151515" stroke-width="1.2" fill="none"/>
<path d="M277.4 281.1V300" stroke="#1a1a1a" stroke-width="1.05" fill="none"/>
<path d="M273.8 281.1H281M273.8 300H281M269.8 290.7H285" stroke="#151515" stroke-width="1.2" fill="none"/>
<path d="M300.4 278.1V294.4" stroke="#1a1a1a" stroke-width="1.05" fill="none"/>
<path d="M296.8 278.1H304M296.8 294.4H304M292.8 286.4H308" stroke="#151515" stroke-width="1.2" fill="none"/>
<path d="M323.4 300V307" stroke="#1a1a1a" stroke-width="1.05" fill="none"/>
<path d="M319.8 300H327M319.8 307H327M315.8 303.2H331" stroke="#151515" stroke-width="1.2" fill="none"/>
<path d="M216 193V316H338.7" stroke="#333333" stroke-width="1.5" fill="none"/>
<path d="M213.4 316H216" stroke="#333333" stroke-width="1" fill="none"/>
<text x="209.7" y="318.35" font-size="6.5" text-anchor="end" fill="#1e1e1e" textLength="3.67" lengthAdjust="spacing" style="stroke-width:0.15px">0</text>
<path d="M213.4 288.8H216" stroke="#333333" stroke-width="1" fill="none"/>
<text x="209.7" y="291.15" font-size="6.5" text-anchor="end" fill="#1e1e1e" textLength="3.67" lengthAdjust="spacing" style="stroke-width:0.15px">4</text>
<path d="M213.4 261.6H216" stroke="#333333" stroke-width="1" fill="none"/>
<text x="209.7" y="263.95" font-size="6.5" text-anchor="end" fill="#1e1e1e" textLength="3.67" lengthAdjust="spacing" style="stroke-width:0.15px">8</text>
<path d="M213.4 234.4H216" stroke="#333333" stroke-width="1" fill="none"/>
<text x="209.7" y="236.75" font-size="6.5" text-anchor="end" fill="#1e1e1e" textLength="7.64" lengthAdjust="spacing" style="stroke-width:0.15px">12</text>
<path d="M213.4 207.2H216" stroke="#333333" stroke-width="1" fill="none"/>
<text x="209.7" y="209.55" font-size="6.5" text-anchor="end" fill="#1e1e1e" textLength="7.64" lengthAdjust="spacing" style="stroke-width:0.15px">16</text>
<path d="M231.4 316V318.8" stroke="#333333" stroke-width="1" fill="none"/>
<text transform="translate(234.3 324.2) rotate(-45)" font-size="6.6" text-anchor="end" fill="#1e1e1e">none</text>
<path d="M254.4 316V318.8" stroke="#333333" stroke-width="1" fill="none"/>
<text transform="translate(257.9 325.2) rotate(-45)" font-size="6.6" text-anchor="end" fill="#1e1e1e"><tspan font-size="4.9">α</tspan><tspan font-size="7.4">PC</tspan></text>
<path d="M277.4 316V318.8" stroke="#333333" stroke-width="1" fill="none"/>
<text transform="translate(280.7 322.9) rotate(-45)" font-size="6.6" text-anchor="end" fill="#1e1e1e"><tspan font-size="4.6" dy="-2.6" style="stroke-width:0.05px">super</tspan><tspan font-size="6.9" dy="2.6" style="stroke-width:0.32px">FVa</tspan></text>
<path d="M300.4 316V318.8" stroke="#333333" stroke-width="1" fill="none"/>
<text transform="translate(303.3 324.2) rotate(-45)" font-size="6.6" text-anchor="end" fill="#1e1e1e">none</text>
<path d="M323.4 316V318.8" stroke="#333333" stroke-width="1" fill="none"/>
<text transform="translate(326.7 322.9) rotate(-45)" font-size="6.6" text-anchor="end" fill="#1e1e1e"><tspan font-size="4.6" dy="-2.6" style="stroke-width:0.05px">super</tspan><tspan font-size="6.9" dy="2.6" style="stroke-width:0.32px">FVa</tspan></text>
<text transform="translate(196.2 254.5) rotate(-90)" font-size="7.1" text-anchor="middle" fill="#222" textLength="41" lengthAdjust="spacingAndGlyphs" style="stroke-width:0.3px">Lag time (min)</text>
<path d="M222.3 204.8V202.6H287.3V204.8" stroke="#333" stroke-width="1.15" fill="none"/>
<text x="254.8" y="200.7" font-size="5.7" text-anchor="middle" fill="#1e1e1e" style="stroke-width:0.1px">P &lt; 0.0001</text>
<path d="M248.1 215.9V213.7H287.3V215.9" stroke="#333" stroke-width="1.15" fill="none"/>
<text x="267.7" y="211.8" font-size="5.7" text-anchor="middle" fill="#1e1e1e" style="stroke-width:0.1px">P &lt; 0.0001</text>
<path d="M292.6 246.6V244.4H331.4V246.6" stroke="#333" stroke-width="1.15" fill="none"/>
<text x="312" y="242.5" font-size="5.7" text-anchor="middle" fill="#1e1e1e" style="stroke-width:0.1px">P = 0.0002</text>
<circle cx="224.9" cy="298.4" r="2.45" fill="none" stroke="#222" stroke-width="1.2"/>
<rect x="222.4" y="304.4" width="5" height="5" fill="none" stroke="#222" stroke-width="1.2"/>
<text x="230.3" y="300.3" font-size="5.6" fill="#1e1e1e" style="stroke-width:0.04px">with cells</text>
<text x="230.3" y="308.8" font-size="5.6" fill="#1e1e1e" style="stroke-width:0.04px">no cells</text>
<text x="181.7" y="193.2" font-size="11.7" font-weight="bold" fill="#000" style="stroke:#000;stroke-width:0.3px">D</text>
<circle cx="405.1" cy="223.5" r="2.6" fill="none" stroke="#c3204a" stroke-width="1.0"/>
<circle cx="401.6" cy="230.5" r="2.6" fill="none" stroke="#c3204a" stroke-width="1.0"/>
<circle cx="412.7" cy="236.6" r="2.6" fill="none" stroke="#c3204a" stroke-width="1.0"/>
<circle cx="409.2" cy="243.6" r="2.6" fill="none" stroke="#c3204a" stroke-width="1.0"/>
<circle cx="401.6" cy="248.9" r="2.6" fill="none" stroke="#c3204a" stroke-width="1.0"/>
<circle cx="401.6" cy="257.1" r="2.6" fill="none" stroke="#c3204a" stroke-width="1.0"/>
<circle cx="409.2" cy="260.3" r="2.6" fill="none" stroke="#c3204a" stroke-width="1.0"/>
<circle cx="403.4" cy="262" r="2.6" fill="none" stroke="#c3204a" stroke-width="1.0"/>
<circle cx="405.7" cy="275.2" r="2.6" fill="none" stroke="#c3204a" stroke-width="1.0"/>
<circle cx="427.9" cy="220.9" r="2.6" fill="none" stroke="#3b5a9c" stroke-width="1.0"/>
<circle cx="424.4" cy="234.9" r="2.6" fill="none" stroke="#3b5a9c" stroke-width="1.0"/>
<circle cx="432.3" cy="234" r="2.6" fill="none" stroke="#3b5a9c" stroke-width="1.0"/>
<circle cx="424.4" cy="243.6" r="2.6" fill="none" stroke="#3b5a9c" stroke-width="1.0"/>
<circle cx="432.3" cy="243.1" r="2.6" fill="none" stroke="#3b5a9c" stroke-width="1.0"/>
<circle cx="424.4" cy="252.9" r="2.6" fill="none" stroke="#3b5a9c" stroke-width="1.0"/>
<circle cx="432.3" cy="254.2" r="2.6" fill="none" stroke="#3b5a9c" stroke-width="1.0"/>
<circle cx="431.9" cy="263.8" r="2.6" fill="none" stroke="#3b5a9c" stroke-width="1.0"/>
<circle cx="424.4" cy="269" r="2.6" fill="none" stroke="#3b5a9c" stroke-width="1.0"/>
<circle cx="447.6" cy="261.2" r="2.6" fill="none" stroke="#66b64a" stroke-width="1.0"/>
<circle cx="454.6" cy="258" r="2.6" fill="none" stroke="#66b64a" stroke-width="1.0"/>
<circle cx="447.6" cy="266.8" r="2.6" fill="none" stroke="#66b64a" stroke-width="1.0"/>
<circle cx="454.6" cy="267.1" r="2.6" fill="none" stroke="#66b64a" stroke-width="1.0"/>
<circle cx="452.5" cy="272.9" r="2.6" fill="none" stroke="#66b64a" stroke-width="1.0"/>
<circle cx="454.6" cy="281.6" r="2.6" fill="none" stroke="#66b64a" stroke-width="1.0"/>
<circle cx="447.3" cy="288.6" r="2.6" fill="none" stroke="#66b64a" stroke-width="1.0"/>
<rect x="467.5" y="251.5" width="5.0" height="5.0" fill="none" stroke="#c3204a" stroke-width="1.1"/>
<rect x="475.4" y="256" width="5.0" height="5.0" fill="none" stroke="#c3204a" stroke-width="1.1"/>
<rect x="471.4" y="273" width="5.0" height="5.0" fill="none" stroke="#c3204a" stroke-width="1.1"/>
<rect x="467.5" y="280.9" width="5.0" height="5.0" fill="none" stroke="#c3204a" stroke-width="1.1"/>
<rect x="475.4" y="281.4" width="5.0" height="5.0" fill="none" stroke="#c3204a" stroke-width="1.1"/>
<rect x="467.5" y="286.1" width="5.0" height="5.0" fill="none" stroke="#c3204a" stroke-width="1.1"/>
<rect x="474.5" y="286.1" width="5.0" height="5.0" fill="none" stroke="#c3204a" stroke-width="1.1"/>
<rect x="467.5" y="289.1" width="5.0" height="5.0" fill="none" stroke="#c3204a" stroke-width="1.1"/>
<rect x="475.4" y="292.6" width="5.0" height="5.0" fill="none" stroke="#c3204a" stroke-width="1.1"/>
<rect x="471.4" y="296.1" width="5.0" height="5.0" fill="none" stroke="#c3204a" stroke-width="1.1"/>
<rect x="494.1" y="272.7" width="5.0" height="5.0" fill="none" stroke="#66b64a" stroke-width="1.1"/>
<rect x="490.3" y="286.1" width="5.0" height="5.0" fill="none" stroke="#66b64a" stroke-width="1.1"/>
<rect x="498.2" y="285.3" width="5.0" height="5.0" fill="none" stroke="#66b64a" stroke-width="1.1"/>
<rect x="490.3" y="289.5" width="5.0" height="5.0" fill="none" stroke="#66b64a" stroke-width="1.1"/>
<rect x="498.2" y="289.5" width="5.0" height="5.0" fill="none" stroke="#66b64a" stroke-width="1.1"/>
<rect x="490.3" y="294.9" width="5.0" height="5.0" fill="none" stroke="#66b64a" stroke-width="1.1"/>
<rect x="498.7" y="294.9" width="5.0" height="5.0" fill="none" stroke="#66b64a" stroke-width="1.1"/>
<rect x="493.8" y="298.4" width="5.0" height="5.0" fill="none" stroke="#66b64a" stroke-width="1.1"/>
<path d="M405.6 233.5V266.4" stroke="#1a1a1a" stroke-width="1.05" fill="none"/>
<path d="M402 233.5H409.2M402 266.4H409.2M398 250.1H413.2" stroke="#151515" stroke-width="1.2" fill="none"/>
<path d="M428.6 230.5V260.3" stroke="#1a1a1a" stroke-width="1.05" fill="none"/>
<path d="M425 230.5H432.2M425 260.3H432.2M421 245.4H436.2" stroke="#151515" stroke-width="1.2" fill="none"/>
<path d="M451.6 259.8V279.2" stroke="#1a1a1a" stroke-width="1.05" fill="none"/>
<path d="M448 259.8H455.2M448 279.2H455.2M444 269.4H459.2" stroke="#151515" stroke-width="1.2" fill="none"/>
<path d="M474.6 267.1V296.5" stroke="#1a1a1a" stroke-width="1.05" fill="none"/>
<path d="M471 267.1H478.2M471 296.5H478.2M467 282H482.2" stroke="#151515" stroke-width="1.2" fill="none"/>
<path d="M497.6 285.5V299.7" stroke="#1a1a1a" stroke-width="1.05" fill="none"/>
<path d="M494 285.5H501.2M494 299.7H501.2M490 293H505.2" stroke="#151515" stroke-width="1.2" fill="none"/>
<path d="M390.2 193V316H512.9" stroke="#333333" stroke-width="1.5" fill="none"/>
<path d="M387.6 316H390.2" stroke="#333333" stroke-width="1" fill="none"/>
<text x="383.9" y="318.35" font-size="6.5" text-anchor="end" fill="#1e1e1e" textLength="3.67" lengthAdjust="spacing" style="stroke-width:0.15px">0</text>
<path d="M387.6 294.7H390.2" stroke="#333333" stroke-width="1" fill="none"/>
<text x="383.9" y="297.05" font-size="6.5" text-anchor="end" fill="#1e1e1e" textLength="3.67" lengthAdjust="spacing" style="stroke-width:0.15px">4</text>
<path d="M387.6 273.4H390.2" stroke="#333333" stroke-width="1" fill="none"/>
<text x="383.9" y="275.75" font-size="6.5" text-anchor="end" fill="#1e1e1e" textLength="3.67" lengthAdjust="spacing" style="stroke-width:0.15px">8</text>
<path d="M387.6 252.1H390.2" stroke="#333333" stroke-width="1" fill="none"/>
<text x="383.9" y="254.45" font-size="6.5" text-anchor="end" fill="#1e1e1e" textLength="7.64" lengthAdjust="spacing" style="stroke-width:0.15px">12</text>
<path d="M387.6 230.8H390.2" stroke="#333333" stroke-width="1" fill="none"/>
<text x="383.9" y="233.15" font-size="6.5" text-anchor="end" fill="#1e1e1e" textLength="7.64" lengthAdjust="spacing" style="stroke-width:0.15px">16</text>
<path d="M387.6 209.5H390.2" stroke="#333333" stroke-width="1" fill="none"/>
<text x="383.9" y="211.85" font-size="6.5" text-anchor="end" fill="#1e1e1e" textLength="7.64" lengthAdjust="spacing" style="stroke-width:0.15px">20</text>
<path d="M405.6 316V318.8" stroke="#333333" stroke-width="1" fill="none"/>
<text transform="translate(408.5 324.2) rotate(-45)" font-size="6.6" text-anchor="end" fill="#1e1e1e">none</text>
<path d="M428.6 316V318.8" stroke="#333333" stroke-width="1" fill="none"/>
<text transform="translate(432.1 325.2) rotate(-45)" font-size="6.6" text-anchor="end" fill="#1e1e1e"><tspan font-size="4.9">α</tspan><tspan font-size="7.4">PC</tspan></text>
<path d="M451.6 316V318.8" stroke="#333333" stroke-width="1" fill="none"/>
<text transform="translate(454.9 322.9) rotate(-45)" font-size="6.6" text-anchor="end" fill="#1e1e1e"><tspan font-size="4.6" dy="-2.6" style="stroke-width:0.05px">super</tspan><tspan font-size="6.9" dy="2.6" style="stroke-width:0.32px">FVa</tspan></text>
<path d="M474.6 316V318.8" stroke="#333333" stroke-width="1" fill="none"/>
<text transform="translate(477.5 324.2) rotate(-45)" font-size="6.6" text-anchor="end" fill="#1e1e1e">none</text>
<path d="M497.6 316V318.8" stroke="#333333" stroke-width="1" fill="none"/>
<text transform="translate(500.9 322.9) rotate(-45)" font-size="6.6" text-anchor="end" fill="#1e1e1e"><tspan font-size="4.6" dy="-2.6" style="stroke-width:0.05px">super</tspan><tspan font-size="6.9" dy="2.6" style="stroke-width:0.32px">FVa</tspan></text>
<text transform="translate(370.4 254.5) rotate(-90)" font-size="7.1" text-anchor="middle" fill="#222" textLength="41" lengthAdjust="spacingAndGlyphs" style="stroke-width:0.3px">Lag time (min)</text>
<path d="M396.5 204.8V202.6H461.5V204.8" stroke="#333" stroke-width="1.15" fill="none"/>
<text x="429" y="200.7" font-size="5.7" text-anchor="middle" fill="#1e1e1e" style="stroke-width:0.1px">P = 0.002</text>
<path d="M422.3 215.9V213.7H461.5V215.9" stroke="#333" stroke-width="1.15" fill="none"/>
<text x="441.9" y="211.8" font-size="5.7" text-anchor="middle" fill="#1e1e1e" style="stroke-width:0.1px">P &lt; 0.0001</text>
<path d="M466.8 246.6V244.4H505.6V246.6" stroke="#333" stroke-width="1.15" fill="none"/>
<text x="486.2" y="242.5" font-size="5.7" text-anchor="middle" fill="#1e1e1e" style="stroke-width:0.1px">ns</text>
<circle cx="399.1" cy="298.4" r="2.45" fill="none" stroke="#222" stroke-width="1.2"/>
<rect x="396.6" y="304.4" width="5" height="5" fill="none" stroke="#222" stroke-width="1.2"/>
<text x="404.5" y="300.3" font-size="5.6" fill="#1e1e1e" style="stroke-width:0.04px">with cells</text>
<text x="404.5" y="308.8" font-size="5.6" fill="#1e1e1e" style="stroke-width:0.04px">no cells</text>
<text x="355.9" y="193.2" font-size="11.7" font-weight="bold" fill="#000" style="stroke:#000;stroke-width:0.3px">F</text>
<rect x="0" y="0" width="520" height="1.1" fill="#000"/><rect x="0" y="0" width="1.15" height="343" fill="#000"/><rect x="518.75" y="0" width="1.25" height="343" fill="#000"/><rect x="0" y="341.45" width="520" height="1.55" fill="#000"/>
</svg></body></html>
